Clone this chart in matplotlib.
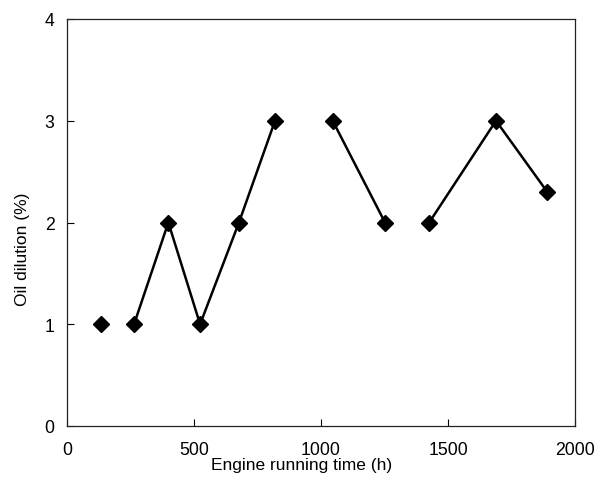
import numpy as np
import matplotlib.pyplot as plt

# engine running time (h) and oil dilution (%)
hours = [133, 264, 399, 524, 677, 819, 1046, 1252, 1426, 1689, 1891]
dilution = [1, 1, 2, 1, 2, 3, 3, 2, 2, 3, 2.3]
# which connected run each point belongs to
run = [0, 1, 1, 1, 1, 1, 2, 2, 3, 3, 3]

plt.rcParams['font.family'] = ['Liberation Sans', 'DejaVu Sans']

fig = plt.figure(figsize=[6.01, 4.81], dpi=100)
ax = fig.add_axes([67/601, 54/481, 508/601, 407/481])

hours = np.array(hours)
dilution = np.array(dilution)
run = np.array(run)
for g in np.unique(run):
    m = run == g
    ax.plot(hours[m], dilution[m], color='black', linewidth=1.8, marker='D',
            markersize=8, markeredgewidth=1, markerfacecolor='black',
            markeredgecolor='black')

ax.set_xlim(0, 2000)
ax.set_ylim(0, 4)
ax.set_xticks(np.arange(0, 2001, 500))
ax.set_yticks(np.arange(0, 5, 1))
ax.tick_params(direction='in', length=5, width=0.8, labelsize=12.7,
               top=False, right=False)
ax.tick_params(axis='x', pad=10.5)
ax.tick_params(axis='y', pad=9)
for s in ax.spines.values():
    s.set_linewidth(0.9)
    s.set_color('#222222')

ax.set_xlabel('Engine running time (h)', fontsize=12.5)
ax.set_ylabel('Oil dilution (%)', fontsize=12.5)
ax.xaxis.set_label_coords(0.4616, -0.077)
ax.yaxis.set_label_coords(-0.073, 0.436)

fig.savefig('out.png', dpi=100)
